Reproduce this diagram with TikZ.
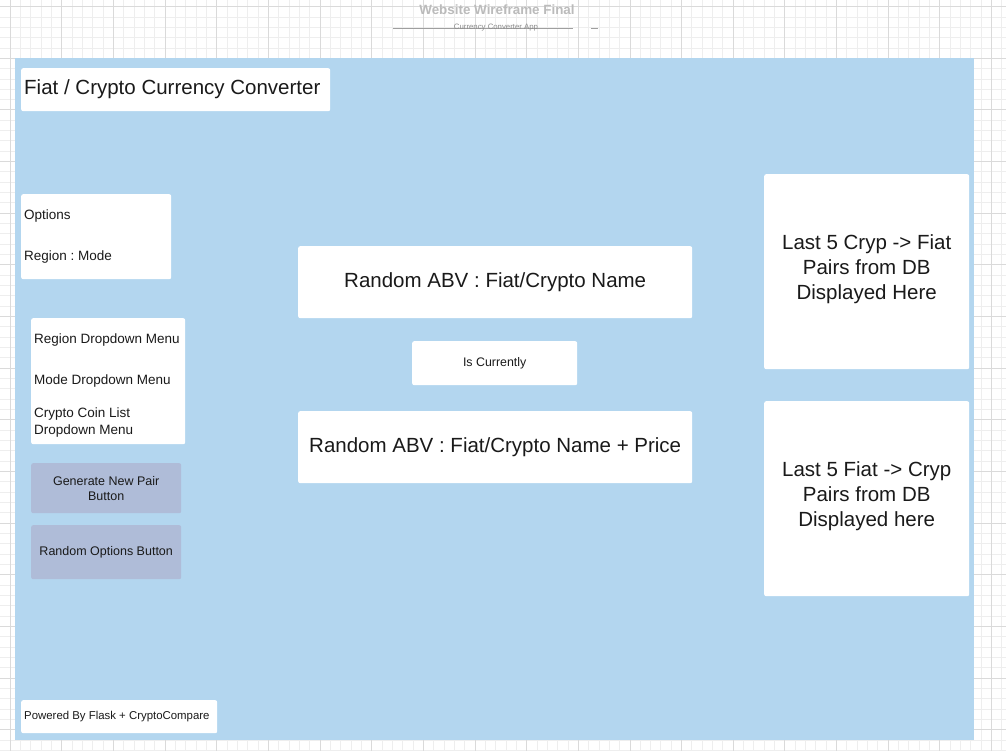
\documentclass[tikz,border=0pt]{standalone}
\usepackage{fontspec}
\setmainfont{Liberation Sans}
\frenchspacing

\definecolor{panelblue}{HTML}{B3D6EF}
\definecolor{buttonblue}{HTML}{AFBCD8}
\definecolor{gridminor}{HTML}{EEEEEE}
\definecolor{gridmajor}{HTML}{DADADA}
\definecolor{headgray}{HTML}{BBBBBB}
\definecolor{inkgray}{HTML}{1A1A1A}

\begin{document}
\begin{tikzpicture}[x=1pt,y=-1pt,
    box/.style={fill=white,rounded corners=2pt,inner xsep=3pt,inner ysep=0pt,text=inkgray,anchor=north west},
    button/.style={box,fill=buttonblue,align=center,font=\fontsize{12.5}{15}\selectfont}]
    \useasboundingbox (0,0) rectangle (1006,751);
    \fill[white] (0,0) rectangle (1006,751);
    % sheet grid
    \foreach \i in {-1,...,96} \draw[gridminor,line width=0.8pt] ({10.1+10.33*\i},0) -- ++(0,751);
    \foreach \j in {0,...,72} \draw[gridminor,line width=0.8pt] (0,{6.6+10.33*\j}) -- ++(1006,0);
    \foreach \i in {0,...,19} \draw[gridmajor,line width=0.8pt] ({10.1+51.65*\i},0) -- ++(0,751);
    \foreach \j in {0,...,14} \draw[gridmajor,line width=0.8pt] (0,{6.6+51.65*\j}) -- ++(1006,0);
    % sheet header
    \node[font=\bfseries\fontsize{13.4}{16}\selectfont,text=headgray] (sheettitle) at (497,10) {Website Wireframe Final};
    \draw[gray!75,line width=0.6pt] (393,28) -- (573,28);
    \draw[gray!75,line width=0.6pt] (591,28) -- (598,28);
    \node[font=\fontsize{7.8}{9}\selectfont,text=gray!90] (sheetsub) at (496,28) {Currency Converter App};
    % page
    \fill[panelblue] (15,58) rectangle (974,740);
    \node[box,minimum width=309pt,minimum height=43pt,text width=303pt,align=flush left,font=\fontsize{20.5}{24}\selectfont] (title) at (21,68) {Fiat / Crypto Currency Converter};
    \node[box,minimum width=150pt,minimum height=85pt,text width=144pt,align=flush left,font=\fontsize{13.5}{17}\selectfont] (options) at (21,194) {Options\\[24pt]Region : Mode};
    \node[box,minimum width=154pt,minimum height=126pt,text width=148pt,align=flush left,font=\fontsize{13.5}{17}\selectfont] (dropdowns) at (31,318) {\rule{0pt}{18pt}Region Dropdown Menu\\[24pt]Mode Dropdown Menu\\[16pt]Crypto Coin List\\Dropdown Menu};
    \node[button,minimum width=150pt,minimum height=50pt] (generate) at (31,463) {Generate New Pair\\Button};
    \node[button,minimum width=150pt,minimum height=54pt] (randomopts) at (31,525) {Random Options Button};
    \node[box,minimum width=394pt,minimum height=72pt,font=\fontsize{20.5}{25}\selectfont] (pairname) at (298,246) {Random ABV : Fiat/Crypto Name};
    \node[box,minimum width=165pt,minimum height=44pt,font=\fontsize{12.4}{15}\selectfont] (iscurrently) at (412,341) {Is Currently};
    \node[box,minimum width=394pt,minimum height=72pt,font=\fontsize{20.5}{25}\selectfont] (pairprice) at (298,411) {Random ABV : Fiat/Crypto Name + Price};
    \node[box,minimum width=205pt,minimum height=195pt,align=center,font=\fontsize{20.5}{25}\selectfont] (cryptofiat) at (764,174) {Last 5 Cryp -> Fiat\\Pairs from DB\\Displayed Here\rule[-8.5pt]{0pt}{0pt}};
    \node[box,minimum width=205pt,minimum height=195pt,align=center,font=\fontsize{20.5}{25}\selectfont] (fiatcrypto) at (764,401) {Last 5 Fiat -> Cryp\\Pairs from DB\\Displayed here\rule[-8.5pt]{0pt}{0pt}};
    \node[box,minimum width=196pt,minimum height=33pt,text width=190pt,align=flush left,font=\fontsize{11.4}{14}\selectfont] (footer) at (21,700) {Powered By Flask + CryptoCompare};
\end{tikzpicture}
\end{document}
